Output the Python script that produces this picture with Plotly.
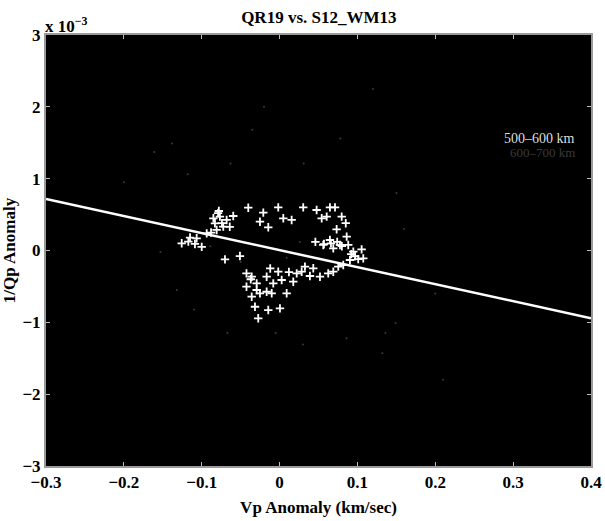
import plotly.graph_objects as go

# 500-600 km points: Vp anomaly (km/s) and 1/Qp anomaly (units of 1e-3)
vp_500 = [-0.0766, -0.083, -0.0723, -0.0808, -0.068, -0.085, -0.0595, -0.0402, -0.0209, -0.0017,
          -0.0252, -0.0145, -0.1257, -0.1172, -0.1065, -0.1087, -0.0936, -0.0701, -0.0509, 0.0048,
          0.0155, 0.0304, 0.0476, 0.0541, 0.0605, 0.0647, 0.0712, 0.0798, 0.0733, 0.0862,
          0.0647, 0.0561, 0.069, 0.0776, 0.0882, 0.1054, 0.1075, 0.0947, 0.0904, 0.0818,
          0.0754, 0.069, 0.0625, 0.0519, 0.039, 0.0284, 0.022, 0.0326, 0.0433, -0.0425,
          -0.0358, -0.0294, -0.0166, -0.0081, -0.0017, 0.0027, 0.0091, -0.0294, -0.0252, -0.0166,
          -0.0101, -0.0425, -0.0316, -0.0145, 0.0005, -0.0274, 0.0176, -0.0358, -0.078, -0.088,
          -0.074, -0.079, -0.064, 0.066, 0.074, 0.080, 0.092, 0.097, 0.101, 0.057,
          0.046, 0.085, -0.012, -0.037, 0.012, -0.100, -0.115]
qp_500 = [0.471, 0.379, 0.332, 0.286, 0.425, 0.448, 0.480, 0.596, 0.527, 0.601,
          0.401, 0.323, 0.100, 0.123, 0.170, 0.091, 0.239, -0.123, -0.077, 0.448,
          0.425, 0.601, 0.564, 0.448, 0.471, 0.601, 0.601, 0.471, 0.295, 0.193,
          0.146, 0.077, 0.030, 0.077, 0.077, 0.016, -0.109, -0.016, -0.132, -0.202,
          -0.225, -0.295, -0.318, -0.365, -0.355, -0.295, -0.318, -0.225, -0.248, -0.318,
          -0.365, -0.457, -0.365, -0.457, -0.295, -0.411, -0.596, -0.550, -0.596, -0.574,
          -0.596, -0.504, -0.783, -0.829, -0.805, -0.944, -0.434, -0.643, 0.55, 0.25,
          0.38, 0.52, 0.33, 0.10, 0.12, 0.06, -0.05, -0.08, -0.12, 0.09,
          0.12, 0.38, -0.25, -0.40, -0.30, 0.05, 0.18]

# 600-700 km points (faint)
vp_600 = [-0.138, -0.035, 0.031, 0.078, -0.161, -0.118, -0.063, -0.153, -0.132, -0.110,
          -0.067, -0.005, 0.030, 0.086, 0.136, 0.132, 0.149, 0.026, -0.050, 0.009,
          -0.089, 0.150, -0.200, 0.200, 0.120, -0.020, 0.160, 0.210]
qp_600 = [1.49, 1.68, 1.21, 1.56, 1.37, 1.06, 1.21, -0.02, -0.55, -0.82,
          -1.15, -1.15, -1.31, -1.22, -1.15, -1.43, -1.01, 0.12, -0.16, -0.10,
          0.06, 0.80, 0.95, -0.60, 2.25, 2.00, 0.30, -1.80]

# regression line
fit_slope = -2.37
fit_intercept = 0.005
fit_x = [-0.3, 0.4]
fit_y = [fit_slope * v + fit_intercept for v in fit_x]

x_ticks = [-0.3, -0.2, -0.1, 0, 0.1, 0.2, 0.3, 0.4]
x_tick_text = ["\u22120.3", "\u22120.2", "\u22120.1", "0", "0.1", "0.2", "0.3", "0.4"]
y_ticks = [-3, -2, -1, 0, 1, 2, 3]
y_tick_text = ["\u22123", "\u22122", "\u22121", "0", "1", "2", "3"]

font_serif = "Liberation Serif"
bold_font = dict(family=font_serif, size=17, color="black", weight="bold")

fig = go.Figure()
fig.add_trace(go.Scatter(x=vp_600, y=qp_600, mode="markers",
                         marker=dict(symbol="circle", size=2, color="#3a3a3a"),
                         showlegend=False, hoverinfo="skip"))
fig.add_trace(go.Scatter(x=vp_500, y=qp_500, mode="markers",
                         marker=dict(symbol="cross-thin", size=6, color="white",
                                     line=dict(color="white", width=1.8)),
                         showlegend=False))
fig.add_trace(go.Scatter(x=fit_x, y=fit_y, mode="lines",
                         line=dict(color="white", width=2.5), showlegend=False))

axis_common = dict(showgrid=False, zeroline=False, mirror="ticks", showline=True,
                   linecolor="#9a9a9a", linewidth=2, ticks="inside", ticklen=4,
                   tickcolor="#bdbdbd", tickwidth=1, automargin=False,
                   tickfont=bold_font)

fig.update_layout(
    width=605, height=521,
    margin=dict(l=46, r=14, t=35, b=55),
    paper_bgcolor="white", plot_bgcolor="black",
    title=dict(text="QR19 vs. S12_WM13", x=0.527, xanchor="center", y=0.968, yanchor="middle",
               font=bold_font),
    xaxis=dict(range=[-0.3, 0.4], tickvals=x_ticks, ticktext=x_tick_text,
               title=dict(text="Vp Anomaly (km/sec)", standoff=10, font=bold_font),
               **axis_common),
    yaxis=dict(range=[-3, 3], tickvals=y_ticks, ticktext=y_tick_text,
               title=dict(text="1/Qp Anomaly", standoff=7, font=bold_font),
               **axis_common),
    annotations=[
        dict(text="x 10<sup>\u22123</sup>", xref="paper", yref="paper", x=-0.005, y=1.0,
             xanchor="left", yanchor="bottom", showarrow=False, yshift=-3,
             font=bold_font),
        dict(text="500\u2013600 km", xref="paper", yref="paper", x=0.975, y=0.76,
             xanchor="right", yanchor="middle", showarrow=False,
             font=dict(family=font_serif, size=14, color="#dddddd")),
        dict(text="600\u2013700 km", xref="paper", yref="paper", x=0.975, y=0.728,
             xanchor="right", yanchor="middle", showarrow=False,
             font=dict(family=font_serif, size=13, color="#3a3a3a")),
    ],
)

fig.write_html("out.html")
